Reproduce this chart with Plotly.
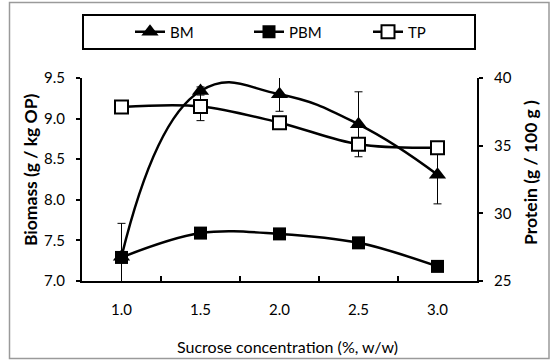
import plotly.graph_objects as go

categories = ["1.0", "1.5", "2.0", "2.5", "3.0"]
bm = [7.30, 9.34, 9.30, 8.93, 8.31]
bm_err = [0.41, 0.05, 0.21, 0.40, 0.36]
pbm = [7.29, 7.59, 7.58, 7.47, 7.18]
tp = [37.85, 37.9, 36.7, 35.1, 34.85]
tp_err = [0.3, 1.05, 0.3, 0.3, 0.3]

FONT = "Lato, Noto Sans, sans-serif"

fig = go.Figure()
fig.add_trace(go.Scatter(
    x=categories, y=bm, name="BM", mode="lines+markers",
    line=dict(color="black", width=2.5, shape="spline", smoothing=1.3),
    marker=dict(symbol="triangle-up", size=15, color="black"),
    error_y=dict(type="data", array=bm_err, visible=True, color="black", thickness=1, width=4),
    yaxis="y"))
fig.add_trace(go.Scatter(
    x=categories, y=pbm, name="PBM", mode="lines+markers",
    line=dict(color="black", width=2.5, shape="spline", smoothing=1.0),
    marker=dict(symbol="square", size=13, color="black"),
    yaxis="y"))
fig.add_trace(go.Scatter(
    x=categories, y=tp, name="TP", mode="lines+markers",
    line=dict(color="black", width=2.5, shape="spline", smoothing=1.0),
    marker=dict(symbol="square", size=13, color="white", line=dict(color="black", width=2)),
    error_y=dict(type="data", array=tp_err, visible=True, color="black", thickness=1, width=4),
    yaxis="y2"))

W, H = 554, 360
L, R, T, B = 82, 77, 78, 79
pw, ph = W - L - R, H - T - B

def px(xp):
    return (xp - L) / pw

def py(yp):
    return (H - B - yp) / ph

fig.update_layout(
    width=W, height=H,
    margin=dict(l=L, r=R, t=T, b=B),
    paper_bgcolor="white", plot_bgcolor="white",
    font=dict(family=FONT, size=15, color="black"),
    showlegend=True,
    legend=dict(orientation="h", x=px(130), y=py(32), xanchor="left", yanchor="middle",
                bgcolor="rgba(0,0,0,0)", borderwidth=0, font=dict(size=15),
                entrywidth=74, entrywidthmode="pixels", itemwidth=30),
    xaxis=dict(type="category", range=[-0.5, 4.5], showline=True, linecolor="black", linewidth=2,
               ticks="inside", ticklen=5, tickcolor="black", tickwidth=1.5, tickson="boundaries",
               showgrid=False, zeroline=False, tickfont=dict(size=15), ticklabelstandoff=14),
    yaxis=dict(range=[7.0, 9.5], dtick=0.5, tickformat=".1f", showline=True, linecolor="black", linewidth=2,
               ticks="outside", ticklen=4, tickcolor="black", tickwidth=1.5,
               showgrid=False, zeroline=False, tickfont=dict(size=15), ticklabelstandoff=8),
    yaxis2=dict(range=[25, 40], dtick=5, overlaying="y", side="right", showline=True, linecolor="black",
                linewidth=2, ticks="outside", ticklen=4, tickcolor="black", tickwidth=1.5,
                showgrid=False, zeroline=False, tickfont=dict(size=15), ticklabelstandoff=8),
    shapes=[
        dict(type="rect", xref="paper", yref="paper", x0=px(9.5), x1=px(549), y0=py(358.5), y1=py(2.5),
             line=dict(color="#9a9a9a", width=1.5), fillcolor="rgba(0,0,0,0)"),
        dict(type="rect", xref="paper", yref="paper", x0=px(83), x1=px(475), y0=py(49), y1=py(15),
             line=dict(color="black", width=2), fillcolor="rgba(0,0,0,0)"),
    ],
    annotations=[
        dict(text="<b>Biomass (g / kg OP)</b>", xref="paper", yref="paper", x=px(30), y=py(170),
             textangle=-90, showarrow=False, font=dict(size=17.5), xanchor="center", yanchor="middle"),
        dict(text="<b>Protein (g / 100 g )</b>", xref="paper", yref="paper", x=px(530), y=py(173),
             textangle=-90, showarrow=False, font=dict(size=17.5), xanchor="center", yanchor="middle"),
        dict(text="Sucrose concentration (%, w/w)", xref="paper", yref="paper", x=px(287), y=py(346),
             showarrow=False, font=dict(size=16), xanchor="center", yanchor="middle"),
    ],
)

fig.write_html("out.html", config={"displayModeBar": False},
               post_script="document.body.style.margin='0';")
